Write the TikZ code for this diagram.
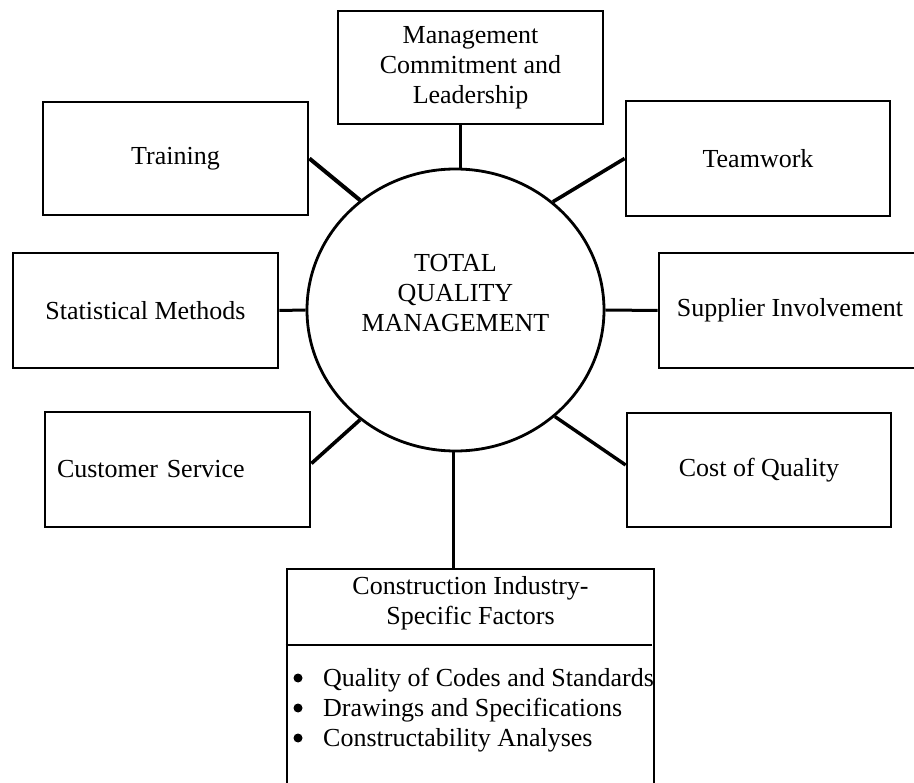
\documentclass[tikz,border=0pt]{standalone}
\usepackage{fontspec}
\setmainfont{Liberation Serif}
\usetikzlibrary{shapes.geometric,calc}
\begin{document}
\begin{tikzpicture}[x=1pt,y=-1pt,
  font=\fontsize{26}{30}\selectfont,
  every node/.style={align=center},
  box/.style={draw, line width=2.8pt, rectangle, inner sep=0pt},
  link/.style={line width=3pt},
  bulletdot/.style={circle, fill, inner sep=0pt, minimum size=9pt},
  item/.style={anchor=base west, inner sep=0pt, align=left},
]
\useasboundingbox (0,0) rectangle (914,783);
\clip (0,0) rectangle (914,783);

% central ellipse
\node[draw, ellipse, line width=2.8pt, minimum width=297pt, minimum height=282pt, inner sep=0pt] (tqm) at (455.5,310) {};
\node (tqmtext) at (455.5,293) {TOTAL\\QUALITY\\MANAGEMENT};

% boxes
\node[box, minimum width=265pt, minimum height=113pt] (mgmt) at (470.5,67.5) {Management\\Commitment and\\Leadership};
\node[box, minimum width=265pt, minimum height=113pt] (train) at (175.5,158.5) {Training};
\node[box, minimum width=264pt, minimum height=115pt] (team) at (758,158.5) {Teamwork};
\node[box, minimum width=265pt, minimum height=115pt] (stat) at (145.5,310.5) {Statistical Methods};
\node[box, minimum width=262pt, minimum height=115pt] (supp) at (790,310.5) {Supplier Involvement};
\node[box, minimum width=265pt, minimum height=115pt, text width=241pt, align=left] (cust) at (177.5,469.5) {Customer Service};
\node[box, minimum width=264pt, minimum height=114pt] (cost) at (759,470) {Cost of Quality};
\node[box, minimum width=367pt, minimum height=241pt] (bot) at (470.5,689.5) {};

% bottom box contents
\node (bottitle) at (470.5,603) {Construction Industry-\\Specific Factors};
\coordinate (sep) at (0,645);
\draw[line width=2.8pt] (bot.west |- sep) -- ($(bot.east |- sep)+(-3,0)$);
\node[bulletdot] (bul1) at (298,678) {};
\node[bulletdot] (bul2) at (298,708) {};
\node[bulletdot] (bul3) at (298,738) {};
\node[item] (b1) at (323,686) {Quality of Codes and Standards};
\node[item] (b2) at (323,716) {Drawings and Specifications};
\node[item] (b3) at (323,746) {Constructability Analyses};

% connectors
\draw[link] (tqm.88) -- (tqm.88 |- mgmt.south);
\draw[link] (tqm.269) -- (tqm.269 |- bot.north);
\draw[link, line width=4pt] (train.east) -- (tqm.131.6);
\draw[link, line width=3.6pt] (team.west) -- (tqm.48.3);
\draw[link] (stat.east) -- (tqm.west);
\draw[link] (tqm.east) -- (supp.west);
\draw[link, line width=3.6pt] ($(cust.east)+(0,-6)$) -- (tqm.229.8);
\draw[link, line width=3.4pt] ($(cost.west)+(0,-5)$) -- (tqm.313.6);
\end{tikzpicture}
\end{document}
